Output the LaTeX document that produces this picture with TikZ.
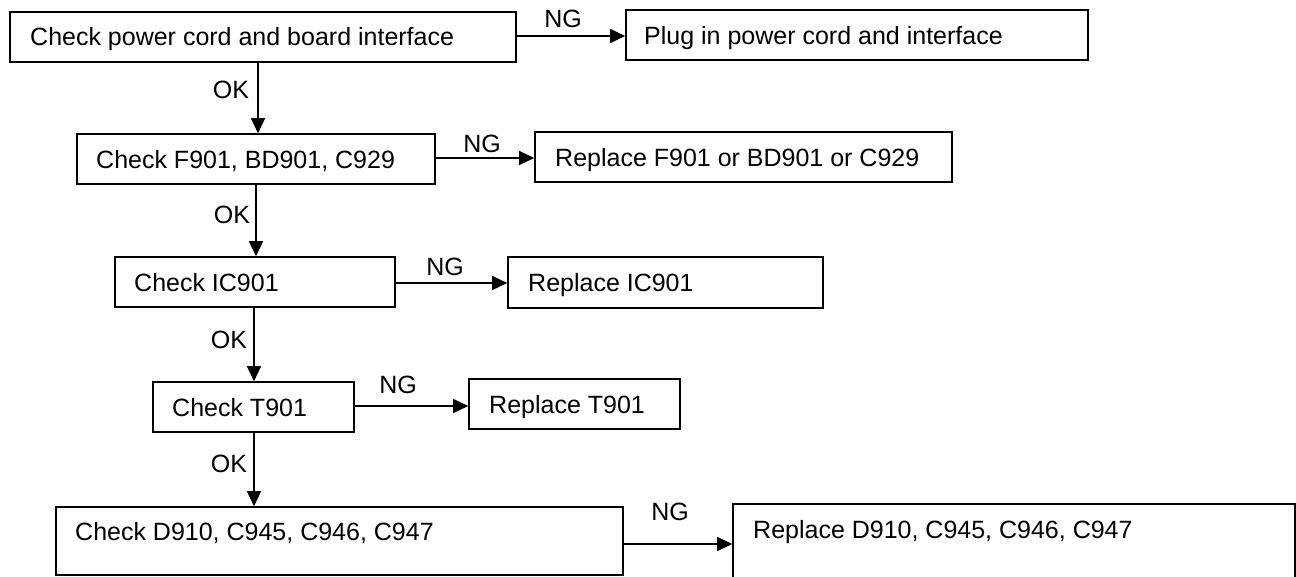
\documentclass[tikz,border=0pt]{standalone}
\usepackage{fontspec}
\setmainfont{Liberation Sans}
\usetikzlibrary{arrows.meta,fit}
\begin{document}
\begin{tikzpicture}[x=1pt,y=-1pt,
  box/.style={draw=black, line width=1.6pt, inner sep=0pt, fit={#1}},
  txt/.style={inner sep=0pt, anchor=base west, font=\fontsize{25}{30}\selectfont},
  lbl/.style={inner sep=0pt, anchor=base, font=\fontsize{25}{30}\selectfont},
  arr/.style={line width=1.5pt, -{Triangle[length=15pt,width=14pt]}}]
\useasboundingbox (0,0) rectangle (1296,576);
\clip (0,0) rectangle (1296,576);
% boxes
\node[box={(10,12) (516,62)}] (b1) {};
\node[box={(626,10) (1088,60)}] (b2) {};
\node[box={(77,134) (435,184)}] (b3) {};
\node[box={(535,132) (952,182)}] (b4) {};
\node[box={(115,257) (395,307)}] (b5) {};
\node[box={(508,257) (823,308)}] (b6) {};
\node[box={(153,382) (354,432)}] (b7) {};
\node[box={(469,379) (680,429)}] (b8) {};
\node[box={(56,507) (623,575)}] (b9) {};
\node[box={(733,504) (1295,590)}] (b10) {};
% texts
\node[txt] (t1) at (30,45) {Check power cord and board interface};
\node[txt] (t2) at (644,44) {Plug in power cord and interface};
\node[txt] (t3) at (96,168) {Check F901, BD901, C929};
\node[txt] (t4) at (555,166) {Replace F901 or BD901 or C929};
\node[txt] (t5) at (134,291) {Check IC901};
\node[txt] (t6) at (528,291) {Replace IC901};
\node[txt] (t7) at (172,416) {Check T901};
\node[txt] (t8) at (489,413) {Replace T901};
\node[txt] (t9) at (75,540) {Check D910, C945, C946, C947};
\node[txt] (t10) at (753,538) {Replace D910, C945, C946, C947};
% vertical guides
\coordinate (v1) at (258,0);
\coordinate (v2) at (256,0);
\coordinate (v3) at (254,0);
% NG arrows
\draw[arr] (b1.east |- 0,36) -- (b2.west |- 0,36);
\draw[arr] (b3.east |- 0,158) -- (b4.west |- 0,158);
\draw[arr] (b5.east |- 0,283) -- (b6.west |- 0,283);
\draw[arr] (b7.east |- 0,406) -- (b8.west |- 0,406);
\draw[arr] (b9.east |- 0,544) -- (b10.west |- 0,544);
% OK arrows
\draw[arr] (b1.south -| v1) -- (b3.north -| v1);
\draw[arr] (b3.south -| v2) -- (b5.north -| v2);
\draw[arr] (b5.south -| v3) -- (b7.north -| v3);
\draw[arr] (b7.south -| v3) -- (b9.north -| v3);
% labels
\node[lbl] (ng1) at (563,27) {NG};
\node[lbl] (ng2) at (482,152) {NG};
\node[lbl] (ng3) at (445,275) {NG};
\node[lbl] (ng4) at (398,393) {NG};
\node[lbl] (ng5) at (670,520) {NG};
\node[lbl] (ok1) at (231,98) {OK};
\node[lbl] (ok2) at (232,223) {OK};
\node[lbl] (ok3) at (229,348) {OK};
\node[lbl] (ok4) at (229,472) {OK};
\end{tikzpicture}
\end{document}
